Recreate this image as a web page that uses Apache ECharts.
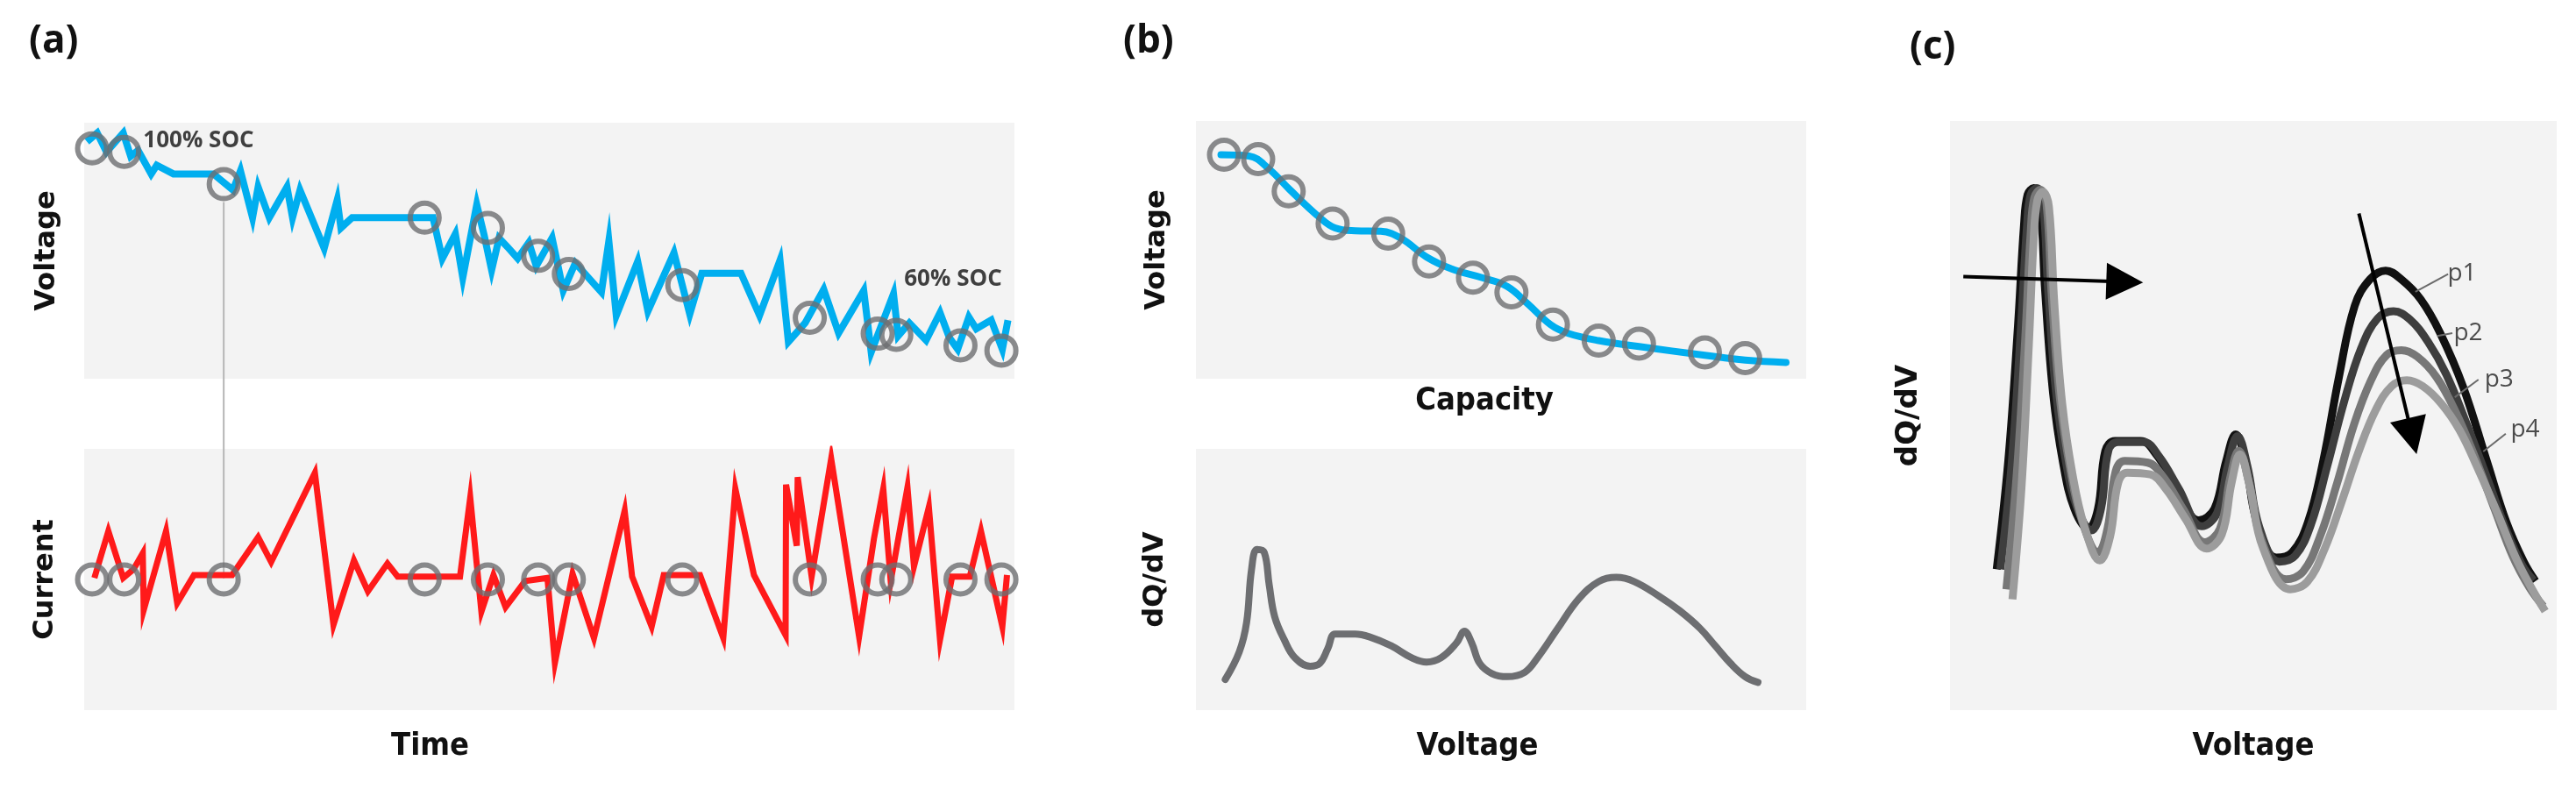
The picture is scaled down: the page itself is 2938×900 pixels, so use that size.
<!DOCTYPE html>
<html><head><meta charset="utf-8">
<script src="https://cdn.jsdelivr.net/npm/echarts@6/dist/echarts.min.js"></script>
<style>html,body{margin:0;padding:0;background:#fff}#c{width:2938px;height:900px}</style>
</head><body><div id="c"></div>
<script>
// ---------- (a) time series ----------
const voltTime = [0.3,1.4,2.4,4.2,5.0,5.8,7.2,7.8,9.6,13.9,16.0,16.8,18.1,18.7,19.9,21.8,22.4,23.2,25.8,27.2,27.6,28.8,37.5,38.5,39.9,40.7,42.2,43.0,43.8,44.6,45.5,46.6,47.8,48.6,50.3,51.5,52.8,55.6,56.4,57.2,59.5,60.6,63.4,65.1,66.4,70.6,72.6,74.8,75.7,77.5,79.5,81.1,83.8,84.6,87.0,87.5,88.7,90.5,92.0,93.0,93.9,95.1,95.9,97.5,98.7,99.3];
const voltValue = [92.6,96,88.6,96,86.9,89.2,80,83.4,80,80,73.7,81.2,62.9,74.9,62.9,74.9,62.9,73.7,50.9,69.8,58.9,62.9,62.9,46.9,56.6,39.5,68,56,42.4,54.9,51.5,47,53.2,44,55,34.4,45.2,33.8,53.8,24.7,45.8,26.4,49.2,25.2,41.2,41.2,24.7,46.3,14.4,21.8,34.9,17.8,34.4,10.4,33.2,16.7,21.8,15,25.8,16.1,11.5,24.1,19.5,22.9,11.5,22.9];
const curTime = [1.1,2.6,4.2,5.3,6.3,6.4,8.8,10.0,11.8,15.9,18.7,20.1,24.8,26.8,29.0,30.5,32.6,33.7,40.4,41.5,42.7,44.0,45.3,47.4,49.8,50.6,52.5,54.8,58.1,58.9,61.0,62.3,66.2,68.7,70.0,72.0,75.4,75.45,76.6,76.7,78.2,80.3,83.3,84.9,85.9,86.7,88.5,89.2,90.8,92.0,93.3,95.2,96.4,98.7,99.2];
const curValue = [0.6,18.5,0.6,3.9,10.1,-11.7,18.5,-9,1.7,1.7,16.2,6.7,40.8,-17.3,7.3,-4.5,6.1,1.1,1.1,31.3,-12.3,1.7,-10.6,-0.6,0.6,-31.9,2.2,-22.4,26.3,1.1,-18,1.7,1.7,-22.4,34.7,1.7,-21.3,36.3,12.9,39.2,1.1,46.2,-21.8,15.7,34.7,-0.6,35.2,5,27.7,-23,1.1,1.1,18.5,-18,1.7];
const sampleTime = [0.85,4.3,15.0,36.6,43.4,48.8,52.1,64.3,78.0,85.3,87.3,94.2,98.6];
const sampleVolt = [90,88.6,76,62.9,58.9,48,40.9,36.6,23.8,17.6,17.1,13,11];
const sampleCur = [0,0,0,0,0,0,0,0,0,0,0,0,0];
const guideTime = 15.0, guideTop = 69, guideBottom = -78;
const socLabels = [{name:'100% SOC', t:12.3, v:92.8},{name:'60% SOC', t:93.4, v:39}];

// ---------- (b) ----------
const capCurve = [4.1,8.7,12.0,15.4,20.3,22.8,26.1,30.3,33.6,37.8,41.9,46.9,51.0,54.4,58.1,61.0,66.0,72.6,83.4,90.0,96.7];
const voltCurve = [86.9,86.4,81.3,73.3,62.5,58.5,57.4,57.2,54.5,47.2,42.6,39.2,35.8,29,21,17.6,14.8,12.5,9.1,7.2,6.3];
const capSample = [4.6,10.2,15.2,22.4,31.5,38.2,45.4,51.7,58.5,66.0,72.6,83.4,90.0];
const voltSample = [86.9,85.2,72.7,60.2,56.3,45.5,39.2,33.5,21,14.8,13.6,10.2,8];
const dqdvV = [4.8,7.1,8.3,9.1,10.0,11.2,12.0,12.9,14.5,16.2,18.7,20.3,21.6,22.8,26.1,28.6,32.0,35.3,37.8,40.2,42.7,44.0,45.2,46.5,48.5,51.0,53.9,56.0,59.3,62.7,66.0,68.9,71.8,75.9,79.3,82.6,85.1,87.6,90.0,92.1];
const dqdvD = [11.7,22.3,33.5,53.6,61.5,60.3,48,35.8,26.8,20.1,16.8,17.9,23.5,29.1,29.1,27.9,24.6,20.1,18.4,20.1,25.7,30.2,25.7,17.9,14,12.8,14.5,20.1,31.3,42.5,49.2,50.8,49.2,43.6,38,31.3,24.6,17.9,12.8,10.6];

// ---------- (c) ----------
const p1 = [[7.7,23.9],[9.6,42.2],[11.2,65.1],[12.2,82.3],[12.8,87.5],[13.8,88.6],[14.8,86.5],[15.7,70.9],[17.0,53.7],[18.6,42.2],[20.5,34.2],[22.8,30.8],[24.4,34.2],[25.6,44.0],[27.2,45.7],[31.4,45.7],[34.0,43.4],[37.2,38.2],[41.0,32.2],[43.6,34.2],[45.5,42.2],[47.1,46.8],[48.7,42.2],[50.6,31.9],[53.8,25.9],[56.4,26.8],[59.0,31.9],[61.5,42.2],[64.1,56.5],[66.7,68.6],[69.2,73.1],[71.8,74.6],[74.4,73.1],[77.6,69.7],[80.8,64.0],[84.6,54.8],[88.5,42.2],[91.7,31.9],[94.6,25.1],[96.5,21.9]];
const p2 = [[8.3,23.9],[10.2,42.2],[11.7,65],[12.7,82.3],[13.3,87.5],[14.3,88.6],[15.3,86.5],[16.2,70.9],[17.5,53.7],[19.1,42.2],[21.0,34.2],[23.3,30.5],[24.9,34.2],[26.1,44.0],[27.7,45.5],[31.9,45.5],[34.5,43.0],[37.7,37.6],[41.5,31.2],[44.0,33.4],[45.8,41.5],[47.4,46.5],[49.0,41.5],[51.0,31.0],[54.3,25.2],[56.9,26.2],[59.5,31.5],[62.2,41.5],[65.0,52.5],[67.8,61.5],[70.5,66.5],[73.1,67.7],[75.8,66.3],[78.8,62.5],[81.8,57.0],[85.0,49.0],[88.5,39.5],[91.7,30.5],[94.3,24.6],[96.2,22.0]];
const p3 = [[9.3,20.5],[11.0,40],[12.4,63],[13.3,81],[13.9,87],[14.9,88.3],[15.9,86],[16.8,70],[18.1,53],[19.8,41],[21.8,32],[24.4,26.8],[26.0,31],[27.3,40.5],[28.8,42.3],[32.6,42.0],[35.2,39.5],[38.5,34],[42.0,28.5],[44.5,30.8],[46.2,39.5],[47.6,44.0],[49.2,39.0],[51.3,29.0],[55.4,22.2],[58.2,23.5],[61.0,29.5],[63.8,38.5],[66.6,48.5],[69.4,56.0],[72.0,60.3],[74.4,61.1],[77.0,60.0],[80.2,56.5],[83.4,50.5],[86.5,43.0],[89.8,34.0],[92.8,26.0],[95.5,20.8],[97.8,17.6]];
const p4 = [[10.3,18.8],[11.8,38],[13.0,62],[13.8,80],[14.4,86.5],[15.3,88],[16.3,85.5],[17.2,69],[18.5,52],[20.2,40],[22.2,31],[24.7,25.4],[26.4,29.5],[27.7,38.5],[29.2,40.3],[33.0,40.0],[35.6,37.5],[38.8,32.5],[42.3,27.4],[44.8,29.8],[46.4,38.5],[47.8,43.4],[49.4,38.0],[51.6,27.5],[56.1,20.5],[58.9,21.8],[61.8,27.5],[64.6,35.5],[67.4,44.0],[70.2,51.0],[72.8,55.0],[75.3,56.0],[77.9,55.0],[81.0,52.0],[84.0,47.5],[87.0,41.0],[90.2,33.5],[93.2,26.0],[95.8,20.8],[98.1,16.8]];
const arrowLines = [[[2.2,73.6],[28.8,72.7]],[[67.4,84.3],[76.2,46.5]]];
const leaderLines = [[[76.7,71],[82.1,74]],[[80.3,63.5],[82.8,64]],[[83.2,53.1],[87.1,56.1]],[[87.9,43.9],[91.6,46.9]]];
const peakNames = ['p1','p2','p3','p4'];
const peakLabelPos = [[84.4,74.1],[85.4,64],[90.5,56.1],[94.8,47.6]];

// ---------- chart ----------
const zip = (a,b)=>a.map((x,i)=>[x,b[i]]);
const BG = '#F3F3F3';
const NARROW = "'Liberation Sans Narrow','DejaVu Sans Condensed','Liberation Sans',sans-serif";
const ctx = document.createElement('canvas').getContext('2d');
function fitSize(text, family, target, maxSize){
  ctx.font = 'bold 100px ' + family;
  const w = ctx.measureText(text).width;
  return Math.min(maxSize, Math.round(100 * target / w));
}
const YFONT = {fontFamily:'DejaVu Sans', fontWeight:'bold', fontSize:32, color:'#111'};
function xfont(text, target, pad){
  return {fontFamily:NARROW, fontWeight:'bold', fontSize:fitSize(text, NARROW, target, 46), color:'#111', padding:[0,pad,0,0]};
}
const grids = [
  {left:96, top:140, width:1061, height:292},
  {left:96, top:512, width:1061, height:298},
  {left:1364, top:138, width:696, height:294},
  {left:1364, top:512, width:696, height:298},
  {left:2224, top:138, width:692, height:672}
].map(g=>Object.assign({show:true, backgroundColor:BG, borderWidth:0}, g));

function ax(gi, min, max, name, gap, style, extra){
  return Object.assign({type:'value', gridIndex:gi, min:min, max:max,
    axisLine:{show:false}, axisTick:{show:false}, axisLabel:{show:false}, splitLine:{show:false},
    name:name||'', nameLocation:'middle', nameGap:gap||0, nameTextStyle:style||{}}, extra||{});
}
const xAxes = [
  ax(0,0,100),
  ax(1,0,100,'Time',24,xfont('Time',88,272)),
  ax(2,0,100,'Capacity',8,xfont('Capacity',156,38)),
  ax(3,0,100,'Voltage',24,xfont('Voltage',139,54)),
  ax(4,0,100,'Voltage',24,xfont('Voltage',139,0))
];
const yAxes = [
  ax(0,0,100,'Voltage',26,YFONT,{nameRotate:90}),
  ax(1,-50,50,'Current',28,YFONT,{nameRotate:90}),
  ax(2,0,100,'Voltage',28,YFONT,{nameRotate:90}),
  ax(3,0,100,'dQ/dV',30,YFONT,{nameRotate:90}),
  ax(4,0,100,'dQ/dV',30,Object.assign({},YFONT,{fontSize:34}),{nameRotate:90})
];
const circleStyle = {color:'rgba(0,0,0,0)', borderColor:'#6D6E71', borderWidth:6};
const CS = 33;
const series = [
  {type:'line', xAxisIndex:0, yAxisIndex:0, data:[[guideTime,guideTop],[guideTime,guideBottom]], clip:false,
   showSymbol:false, lineStyle:{color:'#B5B5B5', width:2}, z:1},
  {type:'line', xAxisIndex:0, yAxisIndex:0, data:zip(voltTime,voltValue), showSymbol:false,
   lineStyle:{color:'#00AEEF', width:8, join:'miter'}, z:2},
  {type:'scatter', xAxisIndex:0, yAxisIndex:0, data:zip(sampleTime,sampleVolt), symbol:'circle', symbolSize:CS, itemStyle:circleStyle, z:3},
  {type:'scatter', xAxisIndex:0, yAxisIndex:0, data:socLabels.map(s=>({name:s.name, value:[s.t,s.v]})), symbolSize:1,
   itemStyle:{color:'rgba(0,0,0,0)'}, label:{show:true, position:'inside', formatter:'{b}', fontFamily:'Open Sans', fontWeight:'bold', fontSize:26, color:'#111'}, z:4},
  {type:'line', xAxisIndex:1, yAxisIndex:1, data:zip(curTime,curValue), showSymbol:false,
   lineStyle:{color:'#FF1A1A', width:7, join:'miter'}, z:2},
  {type:'scatter', xAxisIndex:1, yAxisIndex:1, data:zip(sampleTime,sampleCur), symbol:'circle', symbolSize:CS, itemStyle:circleStyle, z:3},
  {type:'line', xAxisIndex:2, yAxisIndex:2, data:zip(capCurve,voltCurve), smooth:0.4, showSymbol:false,
   lineStyle:{color:'#00AEEF', width:8, cap:'round', join:'round'}, z:2},
  {type:'scatter', xAxisIndex:2, yAxisIndex:2, data:zip(capSample,voltSample), symbol:'circle', symbolSize:CS, itemStyle:circleStyle, z:3},
  {type:'line', xAxisIndex:3, yAxisIndex:3, data:zip(dqdvV,dqdvD), smooth:0.4, showSymbol:false,
   lineStyle:{color:'#6D6E71', width:8, cap:'round', join:'round'}, z:2}
];
const peakColors = ['#111111','#3E3E3E','#777777','#9C9C9C'];
[p1,p2,p3,p4].forEach((d,i)=>series.push({type:'line', xAxisIndex:4, yAxisIndex:4, data:d, smooth:0.4, showSymbol:false,
  lineStyle:{color:peakColors[i], width:9, cap:'butt', join:'round'}, z:2+i}));
series.push({type:'lines', coordinateSystem:'cartesian2d', xAxisIndex:4, yAxisIndex:4,
  data:leaderLines.map(c=>({coords:c})), symbol:'none', lineStyle:{color:'#6a6a6a', width:2, opacity:1}, z:8});
series.push({type:'lines', coordinateSystem:'cartesian2d', xAxisIndex:4, yAxisIndex:4,
  data:arrowLines.map(c=>({coords:c})), symbol:['none','triangle'], symbolSize:[46,42],
  lineStyle:{color:'#000', width:4, opacity:1}, itemStyle:{color:'#000'}, z:10});
series.push({type:'scatter', xAxisIndex:4, yAxisIndex:4, data:peakNames.map((n,i)=>({name:n, value:peakLabelPos[i]})), symbolSize:1,
  itemStyle:{color:'rgba(0,0,0,0)'}, label:{show:true, position:'inside', formatter:'{b}', fontFamily:'Open Sans', fontSize:28, color:'#222'}, z:9});

const PANEL = {fontFamily:'Open Sans', fontWeight:'bold', fontSize:44, color:'#111'};
const option = {
  animation:false, backgroundColor:'#ffffff',
  title:[{text:'(a)', left:28, top:20, textStyle:PANEL},{text:'(b)', left:1276, top:20, textStyle:PANEL},{text:'(c)', left:2173, top:27, textStyle:PANEL}],
  grid:grids, xAxis:xAxes, yAxis:yAxes, series:series
};
const chart = echarts.init(document.getElementById('c'));
chart.setOption(option);
</script></body></html>
